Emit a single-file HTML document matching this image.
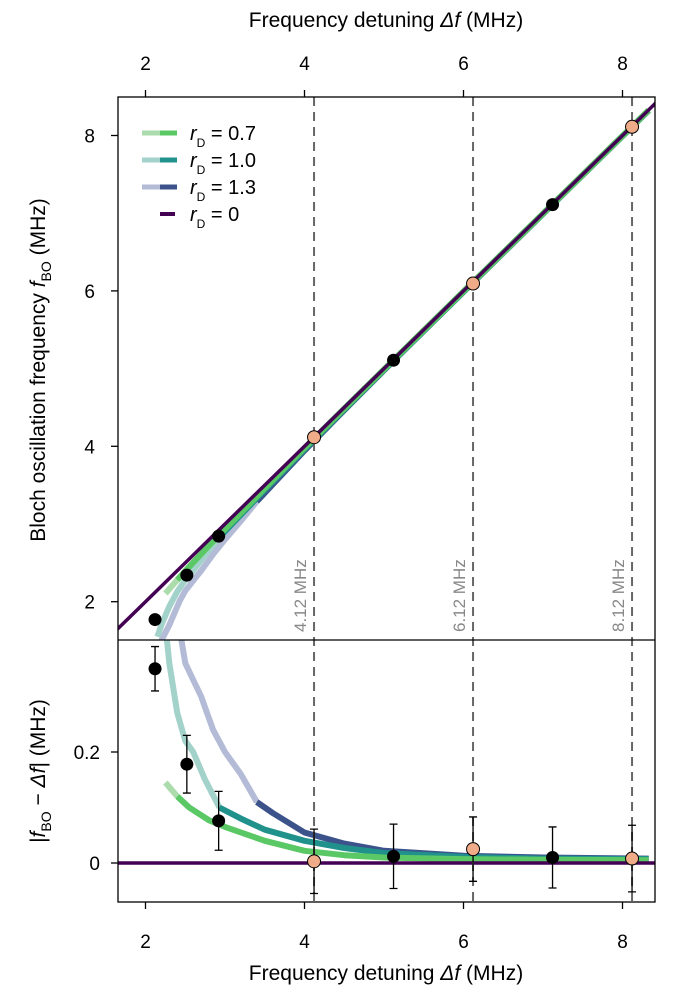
<!DOCTYPE html>
<html><head><meta charset="utf-8">
<style>
body{margin:0;background:#fff;}
svg{display:block;font-family:"Liberation Sans",sans-serif;}
</style></head>
<body>
<svg id="chart" width="680" height="988" viewBox="0 0 680 988"></svg>
<script>
const markerX = [2.12, 2.52, 2.92, 4.12, 5.12, 6.12, 7.12, 8.12];
const markerDiff = [0.35, 0.178, 0.076, 0.003, 0.012, 0.025, 0.01, 0.008];
const markerErr = [0.04, 0.052, 0.053, 0.058, 0.058, 0.058, 0.055, 0.06];
const markerHighlight = [0, 0, 0, 1, 0, 1, 0, 1];
const refLines = [4.12, 6.12, 8.12];
const refLabels = ["4.12 MHz", "6.12 MHz", "8.12 MHz"];
const xTicks = [2, 4, 6, 8];
const topYTicks = [2, 4, 6, 8];
const botYTicks = [0, 0.2];
const botYLabels = ["0", "0.2"];
const greenX = [2.25,2.4,2.55,2.8,3.0,3.5,4.0,4.5,5.0,6.0,7.0,8.33];
const greenD = [0.145,0.12,0.1,0.077,0.065,0.04,0.022,0.014,0.01,0.007,0.006,0.005];
const tealX = [2.15,2.2,2.3,2.4,2.5,2.6,2.75,2.93,3.2,3.5,4.0,4.5,5.0,6.0,7.0,8.33];
const tealD = [0.6,0.5,0.36,0.27,0.22,0.2,0.15,0.1,0.08,0.06,0.04,0.027,0.018,0.011,0.008,0.007];
const blueX = [2.2,2.3,2.43,2.5,2.6,2.7,2.75,2.85,3.0,3.2,3.4,3.6,4.0,4.5,5.0,6.0,7.0,8.33];
const blueD = [0.7,0.6,0.42,0.36,0.33,0.3,0.28,0.24,0.2,0.16,0.11,0.09,0.055,0.035,0.022,0.013,0.01,0.008];
const series = [
 {name:"rd-1.3", xs:blueX, ds:blueD, split:3.4, light:"#b3bbd6", dark:"#3b528b"},
 {name:"rd-1.0", xs:tealX, ds:tealD, split:2.93, light:"#a3d2ca", dark:"#21918c"},
 {name:"rd-0.7", xs:greenX, ds:greenD, split:2.5, light:"#acdcac", dark:"#5ac864"}
];
const L=118,R=655,T=97,MID=640,B=902;
const X=v=>145.5+(v-2)*79.5;
const YT=v=>135.5+(8-v)*77.7;
const YB=v=>863-v*555;
const NS="http://www.w3.org/2000/svg";
const svg=document.getElementById('chart');
function el(tag,attrs,parent){const e=document.createElementNS(NS,tag);for(const k in attrs)e.setAttribute(k,attrs[k]);(parent||svg).appendChild(e);return e;}
const defs=el('defs',{});
const c1=el('clipPath',{id:'ct'},defs);el('rect',{x:L,y:T,width:R-L,height:MID-T},c1);
const c2=el('clipPath',{id:'cb'},defs);el('rect',{x:L,y:MID,width:R-L,height:B-MID},c2);
const gT=el('g',{'clip-path':'url(#ct)'});

const gB=el('g',{'clip-path':'url(#cb)'});

refLines.forEach((v,i)=>{
 const ln=el('line',{x1:X(v),x2:X(v),y1:T,y2:B,stroke:'#666','stroke-width':2,'stroke-dasharray':'9,6'});
 
 const t=el('text',{x:0,y:0,transform:`translate(${X(v)-8},${632}) rotate(-90)`,fill:'#888','font-size':17});
 t.textContent=refLabels[i];
 
});
function drawCurve(s,g,Yf,top){
 let lp=[],dp=[];
 s.xs.forEach((x,i)=>{const y=top?Yf(x-s.ds[i]):Yf(s.ds[i]);const p=X(x).toFixed(1)+','+y.toFixed(1);
  if(x<=s.split)lp.push(p); if(x>=s.split||(i+1<s.xs.length&&s.xs[i+1]>s.split&&x<s.split)){dp.push(p);} });
 const a=el('polyline',{points:lp.join(' '),fill:'none',stroke:s.light,'stroke-width':6,'stroke-linejoin':'round'},g);
 
 const b=el('polyline',{points:dp.join(' '),fill:'none',stroke:s.dark,'stroke-width':6,'stroke-linejoin':'round'},g);
 
}
series.forEach(s=>{drawCurve(s,gT,YT,true);drawCurve(s,gB,YB,false);});
const d0=el('line',{x1:X(1.5),x2:X(8.6),y1:YT(1.5),y2:YT(8.6),stroke:'#440154','stroke-width':3.5},gT);

const d1=el('line',{x1:L,x2:R,y1:YB(0),y2:YB(0),stroke:'#440154','stroke-width':3.5},gB);

markerX.forEach((x,i)=>{
 const fill=markerHighlight[i]?'#f0ab88':'#000';
 const e=markerErr[i],cx=X(x);
 const eb=el('path',{d:`M${cx},${YB(markerDiff[i]-e)}V${YB(markerDiff[i]+e)}M${cx-4},${YB(markerDiff[i]-e)}h8M${cx-4},${YB(markerDiff[i]+e)}h8`,stroke:'#000','stroke-width':1.3,fill:'none'});
 
 const m1=el('circle',{cx,cy:YT(x-markerDiff[i]),r:6.5,fill,stroke:'#000','stroke-width':markerHighlight[i]?1:0});
 
 const m2=el('circle',{cx,cy:YB(markerDiff[i]),r:6.5,fill,stroke:'#000','stroke-width':markerHighlight[i]?1:0});
 
});
const fr=el('rect',{x:L,y:T,width:R-L,height:B-T,fill:'none',stroke:'#000','stroke-width':1.3});

const sep=el('line',{x1:L,x2:R,y1:MID,y2:MID,stroke:'#000','stroke-width':1.3});

xTicks.forEach(v=>{
 const tb=el('line',{x1:X(v),x2:X(v),y1:B,y2:B+7,stroke:'#000','stroke-width':1.3});
 
 const tt=el('line',{x1:X(v),x2:X(v),y1:T,y2:T-7,stroke:'#000','stroke-width':1.3});
 
 const lb=el('text',{x:X(v),y:948,'text-anchor':'middle','font-size':19});lb.textContent=v;
 
 const lt=el('text',{x:X(v),y:70,'text-anchor':'middle','font-size':19});lt.textContent=v;
 
});
topYTicks.forEach(v=>{
 const t=el('line',{x1:L,x2:L-7,y1:YT(v),y2:YT(v),stroke:'#000','stroke-width':1.3});
 
 const lb=el('text',{x:95,y:YT(v)+7,'text-anchor':'end','font-size':19});lb.textContent=v;
 
});
botYTicks.forEach((v,i)=>{
 const t=el('line',{x1:L,x2:L-7,y1:YB(v),y2:YB(v),stroke:'#000','stroke-width':1.3});
 
 const lb=el('text',{x:100,y:YB(v)+7,'text-anchor':'end','font-size':19});lb.textContent=botYLabels[i];
 
});
const legend=[["#acdcac","#5ac864","0.7"],["#a3d2ca","#21918c","1.0"],["#b3bbd6","#3b528b","1.3"],[null,"#440154","0"]];
legend.forEach((l,i)=>{
 const y=133+i*27;
 const g=el('g',{});
 if(l[0]){el('line',{x1:142,x2:160,y1:y,y2:y,stroke:l[0],'stroke-width':5},g);el('line',{x1:160,x2:177,y1:y,y2:y,stroke:l[1],'stroke-width':5},g);}
 else el('line',{x1:160,x2:175,y1:y,y2:y,stroke:l[1],'stroke-width':4},g);
 const t=el('text',{x:190,y:y+7,'font-size':20},g);
 t.innerHTML=`<tspan font-style="italic">r</tspan><tspan font-size="12" dy="7">D</tspan><tspan dy="-7"> = ${l[2]}</tspan>`;
});
const at=el('text',{x:386,y:27,'text-anchor':'middle','font-size':21});
at.innerHTML='Frequency detuning <tspan font-style="italic">Δf</tspan> (MHz)';

const ab=el('text',{x:386,y:980,'text-anchor':'middle','font-size':21});
ab.innerHTML='Frequency detuning <tspan font-style="italic">Δf</tspan> (MHz)';

const yt=el('text',{x:0,y:0,transform:'translate(45,370) rotate(-90)','text-anchor':'middle','font-size':21});
yt.innerHTML='Bloch oscillation frequency <tspan font-style="italic">f</tspan><tspan font-size="14" dy="6">BO</tspan><tspan dy="-6"> (MHz)</tspan>';

const yb=el('text',{x:0,y:0,transform:'translate(45,771) rotate(-90)','text-anchor':'middle','font-size':21});
yb.innerHTML='|<tspan font-style="italic">f</tspan><tspan font-size="14" dy="6">BO</tspan><tspan dy="-6"> − </tspan><tspan font-style="italic">Δf</tspan>| (MHz)';

</script>
</body></html>
